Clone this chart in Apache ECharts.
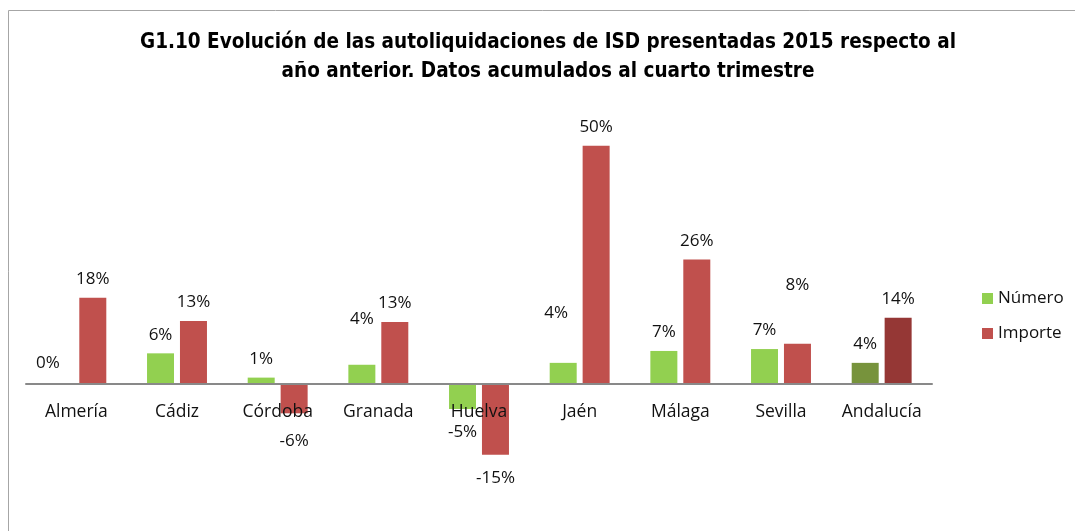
<!DOCTYPE html>
<html>
<head>
<meta charset="utf-8">
<script src="https://cdn.jsdelivr.net/npm/echarts@6/dist/echarts.min.js"></script>
<style>
  html, body { margin: 0; padding: 0; background: #fff; }
  #chart { width: 1075px; height: 531px; }
</style>
</head>
<body>
<div id="chart"></div>
<script>
// provincias
const provincias = ['Almería', 'Cádiz', 'Córdoba', 'Granada', 'Huelva', 'Jaén', 'Málaga', 'Sevilla', 'Andalucía'];
// variación % respecto al año anterior
const numero = [0, 6.4, 1.3, 4.0, -5.3, 4.4, 6.9, 7.3, 4.4];
const importe = [18.1, 13.2, -6.2, 13.0, -14.9, 50.0, 26.1, 8.4, 13.9];

const titulo = 'G1.10 Evolución de las autoliquidaciones de ISD presentadas 2015 respecto al\naño anterior. Datos acumulados al cuarto trimestre';

const labelFont = '"Open Sans", sans-serif';
const colores = {
  numero: '#92D050', importe: '#C0504D',
  numeroTotal: '#77933C', importeTotal: '#953735'
};
// etiquetas movidas a mano en el original
const ajusteNumero = { 0: [-12, -2], 3: [0, -27], 5: [-7, -31] };
const ajusteImporte = { 2: [0, 4], 7: [0, -40] };

function buildData(values, color, colorTotal, ajustes) {
  return values.map((v, i) => {
    const item = {
      value: v,
      itemStyle: { color: i === values.length - 1 ? colorTotal : color },
      label: { position: v < 0 ? 'bottom' : 'top', distance: v < 0 ? 15 : 10 }
    };
    if (ajustes[i]) item.label.offset = ajustes[i];
    return item;
  });
}

const chart = echarts.init(document.getElementById('chart'));
chart.setOption({
  animation: false,
  backgroundColor: '#fff',
  graphic: [
    {
      type: 'rect',
      shape: { x: 8.5, y: 10.5, width: 1200, height: 700 },
      style: { fill: 'none', stroke: '#a6a6a6', lineWidth: 1 },
      silent: true,
      z: -1
    },
    {
      type: 'text',
      x: 548,
      y: 57,
      style: {
        text: titulo,
        align: 'center',
        verticalAlign: 'middle',
        fontFamily: '"Liberation Sans Narrow", "DejaVu Sans Condensed", sans-serif',
        fontWeight: 'bold',
        fontSize: 20.5,
        lineHeight: 29,
        fill: '#000'
      }
    }
  ],
  legend: {
    orient: 'vertical',
    left: 977,
    top: 285,
    itemWidth: 11,
    itemHeight: 11,
    itemGap: 18,
    icon: 'rect',
    textStyle: { fontFamily: labelFont, fontSize: 17, color: '#111' },
    data: ['Número', 'Importe']
  },
  grid: { left: 26, right: 143, top: 122, bottom: 52 },
  xAxis: {
    type: 'category',
    data: provincias,
    z: 10,
    axisLine: { onZero: true, lineStyle: { color: '#898989', width: 2 } },
    axisTick: { show: false },
    // las etiquetas van junto a la línea del cero
    axisLabel: {
      interval: 0,
      hideOverlap: false,
      margin: -76,
      fontFamily: labelFont, fontSize: 17.5, color: '#111'
    }
  },
  yAxis: {
    type: 'value',
    min: -20,
    max: 55,
    show: false,
    splitLine: { show: false }
  },
  series: [
    {
      name: 'Número',
      type: 'bar',
      barWidth: 27,
      barGap: '22%',
      itemStyle: { color: colores.numero },
      label: {
        show: true,
        fontFamily: labelFont, fontSize: 17, color: '#111',
        formatter: p => Math.round(p.value) + '%'
      },
      data: buildData(numero, colores.numero, colores.numeroTotal, ajusteNumero)
    },
    {
      name: 'Importe',
      type: 'bar',
      barWidth: 27,
      barGap: '22%',
      itemStyle: { color: colores.importe },
      label: {
        show: true,
        fontFamily: labelFont, fontSize: 17, color: '#111',
        formatter: p => Math.round(p.value) + '%'
      },
      data: buildData(importe, colores.importe, colores.importeTotal, ajusteImporte)
    }
  ]
});
</script>
</body>
</html>
